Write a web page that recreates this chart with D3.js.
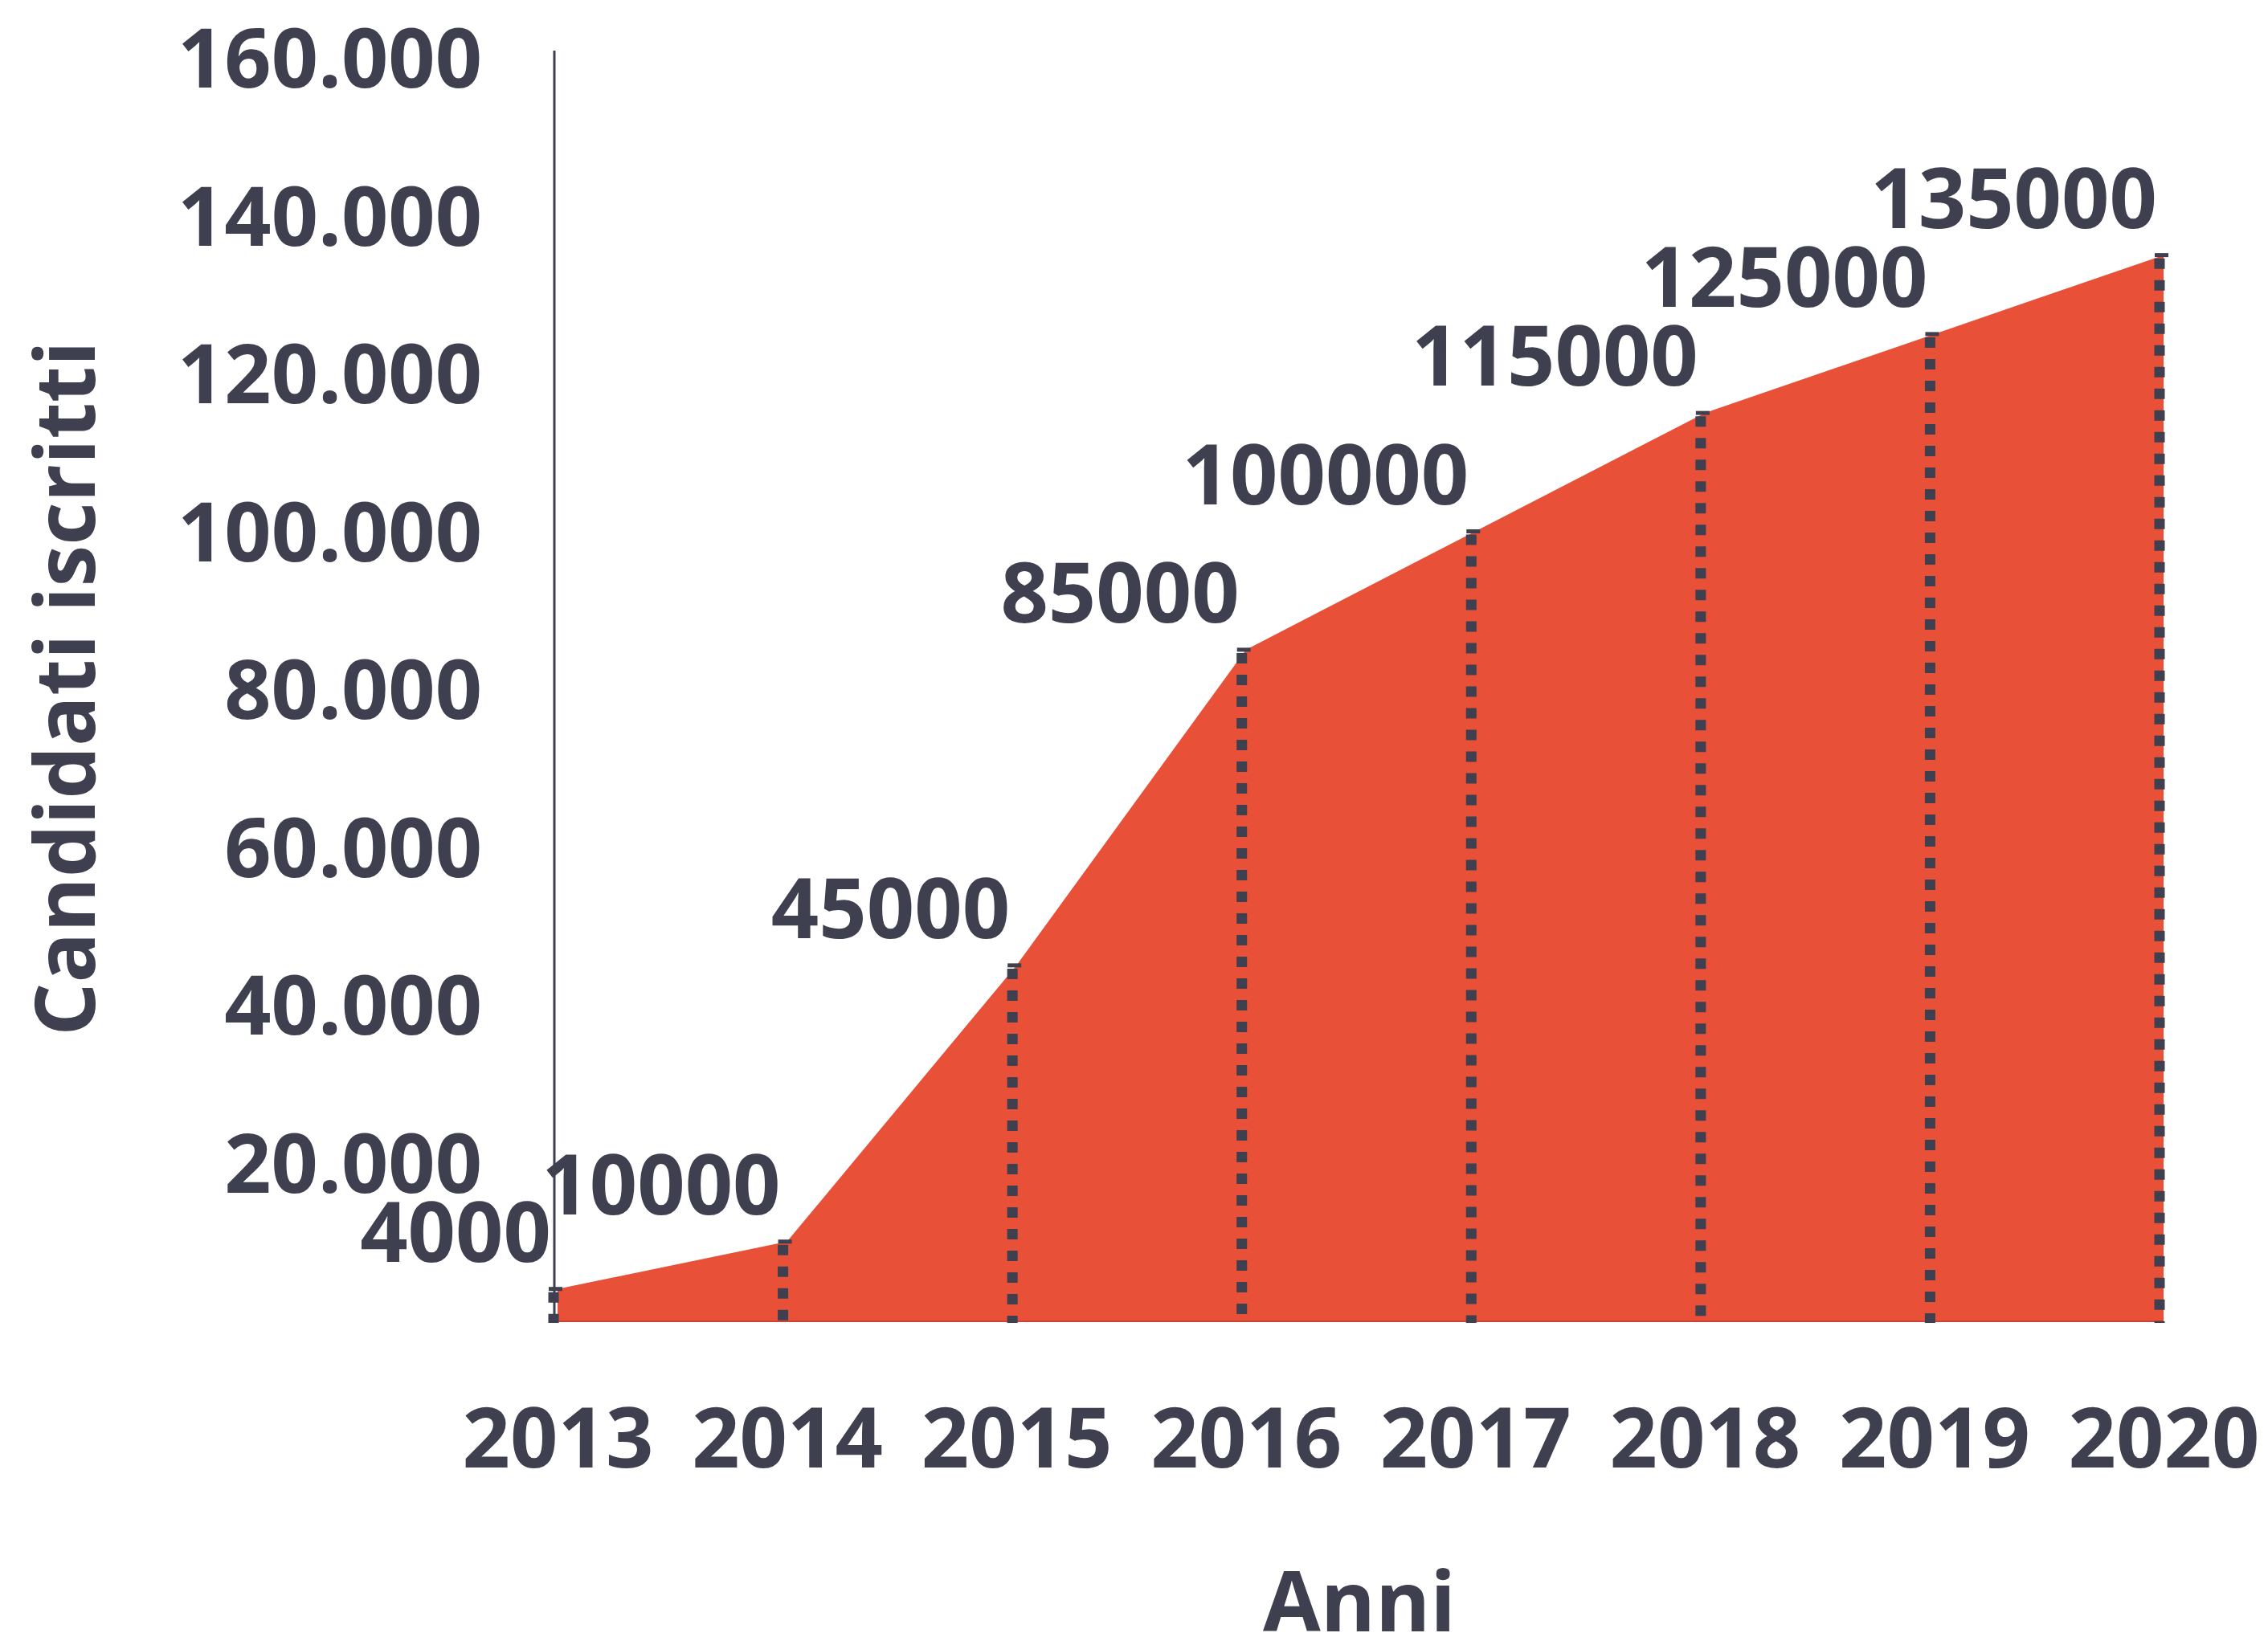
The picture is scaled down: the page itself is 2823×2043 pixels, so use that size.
<!DOCTYPE html>
<html><head><meta charset="utf-8">
<script src="https://cdn.jsdelivr.net/npm/d3@7/dist/d3.min.js"></script>
<style>
html,body{margin:0;padding:0;background:#fff;}
svg{display:block;}
text{font-family:"Open Sans",sans-serif;font-weight:700;fill:#3e3f4f;}
</style></head>
<body>
<svg id="chart" width="2823" height="2043"></svg>
<script>
const years = ["2013","2014","2015","2016","2017","2018","2019","2020"];
const candidati = [4000,10000,45000,85000,100000,115000,125000,135000];
const yTicks = [20000,40000,60000,80000,100000,120000,140000,160000];
const yTitle = "Candidati iscritti";
const xTitle = "Anni";

const ink = "#3e3f4f", red = "#e85038";
const svg = d3.select("#chart");
const x = d3.scalePoint().domain(years).range([694, 2693]);
const y = d3.scaleLinear().domain([0,160000]).range([1644, 72]);
const data = years.map((yr,i)=>({yr, v:candidati[i]}));
const loc = d3.formatLocale({decimal:",", thousands:".", grouping:[3], currency:["€",""]});
const fmt = loc.format(",d");

// area
svg.append("path").datum(data)
  .attr("d", d3.area().x(d=>x(d.yr)).y0(y(0)).y1(d=>y(d.v)))
  .attr("fill", red);
svg.append("line").attr("x1",x(years[0])).attr("x2",x(years[years.length-1]))
  .attr("y1",y(0)+1).attr("y2",y(0)+1).attr("stroke","#c9453a").attr("stroke-width",2);

// y axis line
svg.append("line").attr("x1",690).attr("x2",690).attr("y1",63).attr("y2",y(0)+2)
  .attr("stroke", ink).attr("stroke-width",3);

// y tick labels
const yAxis = svg.append("g").attr("transform","translate(600,0)")
  .call(d3.axisLeft(y).tickValues(yTicks).tickFormat(fmt).tickSize(0).tickPadding(0));
yAxis.select(".domain").remove();
yAxis.selectAll("text").attr("font-size",102).attr("dy","0.36em")
  .style("font-family","'Open Sans',sans-serif").style("font-weight",700).attr("fill",ink);

// x tick labels
const xAxis = svg.append("g").attr("transform","translate(0,1790)")
  .call(d3.axisBottom(x).tickSize(0).tickPadding(0));
xAxis.select(".domain").remove();
xAxis.selectAll("text").attr("font-size",104).attr("dy","0.36em").attr("y",0)
  .style("font-family","'Open Sans',sans-serif").style("font-weight",700).attr("fill",ink);

// dashed drop lines
svg.append("g").selectAll("line").data(data).join("line")
  .attr("x1",d=>x(d.yr)-5).attr("x2",d=>x(d.yr)-5)
  .attr("y1",d=>y(d.v)+4).attr("y2",y(0)+3)
  .attr("stroke",ink).attr("stroke-width",13).attr("stroke-dasharray","13,14");
// caps
svg.append("g").selectAll("line").data(data).join("line")
  .attr("x1",d=>x(d.yr)-11).attr("x2",d=>x(d.yr)+6)
  .attr("y1",d=>y(d.v)).attr("y2",d=>y(d.v))
  .attr("stroke",ink).attr("stroke-width",5);

// value labels
svg.append("g").selectAll("text").data(data).join("text")
  .attr("x",d=>x(d.yr)-8).attr("y",d=>y(d.v)-34)
  .attr("text-anchor","end").attr("font-size",104)
  .text(d=>d.v);

// titles
svg.append("text").attr("transform","translate(81,857) rotate(-90)")
  .attr("text-anchor","middle").attr("dy","0.36em").attr("font-size",104).text(yTitle);
svg.append("text").attr("x",1692).attr("y",1994)
  .attr("text-anchor","middle").attr("dy","0.36em").attr("font-size",104).text(xTitle);
</script>
</body></html>
